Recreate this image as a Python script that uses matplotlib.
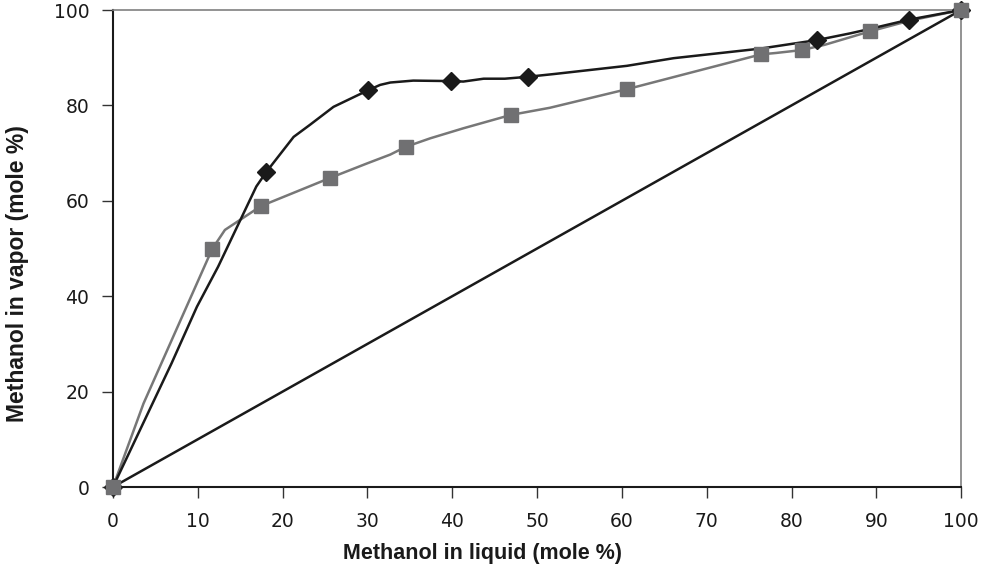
import matplotlib
matplotlib.use("Agg")
import matplotlib.pyplot as plt

# marker points (experimental)
black_x = [0, 18.1, 30.1, 39.9, 48.9, 83.0, 93.9, 100]
black_y = [0, 66.1, 83.2, 85.1, 86.0, 93.7, 98.0, 100]
gray_x = [0, 11.7, 17.45, 25.6, 34.5, 46.9, 60.6, 76.4, 81.2, 89.2, 100]
gray_y = [0, 49.9, 58.9, 64.8, 71.3, 78.0, 83.4, 90.7, 91.6, 95.5, 100]

# traced curves
black_line_x = [0, 6.9, 9.9, 12.4, 16.9, 18.1, 21.3, 23.2, 26.0, 30.1, 31.5, 32.7, 35.4,
                39.9, 41.3, 43.7, 46.2, 48.9, 52.1, 60.6, 66.1, 76.3, 83.0, 86.9, 88.9, 93.9, 100]
black_line_y = [0, 25.9, 37.8, 46.2, 63.0, 66.1, 73.4, 75.9, 79.7, 83.2, 84.3, 84.8, 85.2,
                85.1, 85.0, 85.6, 85.6, 86.0, 86.6, 88.3, 89.9, 91.9, 93.7, 95.1, 95.9, 98.0, 100]
gray_line_x = [0, 3.6, 11.7, 13.2, 17.45, 21.6, 25.6, 29.9, 32.7, 34.5, 37.4, 41.3, 46.9,
               51.5, 60.6, 76.4, 78.2, 81.2, 83.9, 89.2, 94.0, 100]
gray_line_y = [0, 17.5, 49.9, 53.9, 58.9, 61.9, 64.8, 67.8, 69.7, 71.3, 73.1, 75.2, 78.0,
               79.5, 83.4, 90.7, 91.0, 91.6, 92.7, 95.5, 97.8, 100]
diag = [0, 100]

x_ticks = [0, 10, 20, 30, 40, 50, 60, 70, 80, 90, 100]
y_ticks = [0, 20, 40, 60, 80, 100]

plt.rcParams['font.family'] = ['DejaVu Sans']

fig = plt.figure(figsize=(9.84, 5.69), dpi=100)
ax = fig.add_axes([0.1148, 0.1441, 0.862, 0.8383])

ax.plot(diag, diag, color='#1a1a1a', lw=1.8)
ax.plot(gray_line_x, gray_line_y, color='#777777', lw=1.8)
ax.plot(black_line_x, black_line_y, color='#1a1a1a', lw=1.8)
ax.plot(black_x, black_y, 'D', color='#1a1a1a', ms=9, zorder=5)
ax.plot(gray_x, gray_y, 's', color='#707072', ms=10, mec='#707072', zorder=6)

ax.set_xlim(0, 100)
ax.set_ylim(0, 100)
ax.set_xticks(x_ticks)
ax.set_yticks(y_ticks)
ax.tick_params(axis='both', direction='out', length=8, width=1, color='#333333',
               labelsize=13.5, labelcolor='#1a1a1a')
ax.tick_params(axis='x', pad=10)
ax.tick_params(axis='y', pad=9)

for side in ['left', 'bottom']:
    ax.spines[side].set_color('#1a1a1a')
    ax.spines[side].set_linewidth(1.5)
for side in ['top', 'right']:
    ax.spines[side].set_color('#808080')
    ax.spines[side].set_linewidth(1.2)

for line in ax.lines:
    line.set_clip_on(False)

ax.set_xlabel('Methanol in liquid (mole %)', fontsize=15.5, fontweight='bold',
              family='Liberation Sans', color='#1a1a1a')
ax.set_ylabel('Methanol in vapor (mole %)', fontsize=16.5, fontweight='bold',
              family='Liberation Sans', color='#1a1a1a')
ax.xaxis.set_label_coords(0.436, -0.118)
ax.yaxis.set_label_coords(-0.099, 0.447)

fig.savefig('out.png', dpi=100)
